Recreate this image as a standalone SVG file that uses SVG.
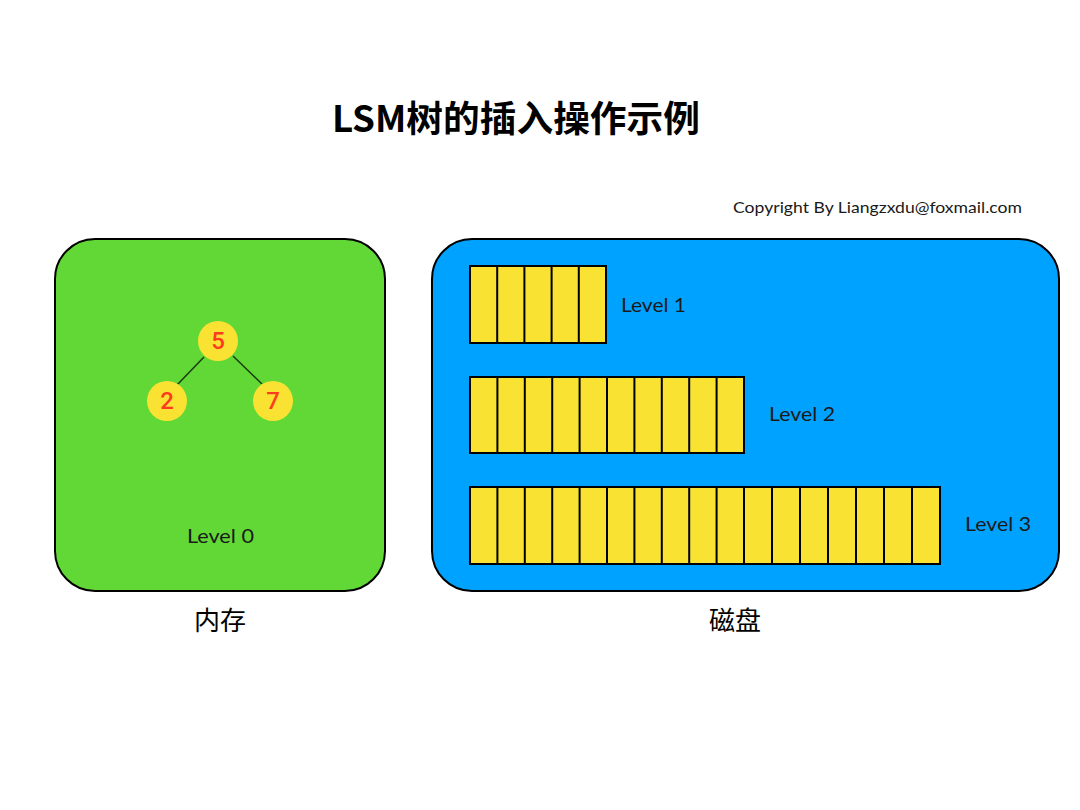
<svg xmlns="http://www.w3.org/2000/svg" width="1080" height="810" viewBox="0 0 1080 810">
<defs>
<style>
.box{stroke:#000;stroke-width:2}
.cell{fill:#F9E232;stroke:#000;stroke-width:2}
.div{stroke:#000;stroke-width:2}
.lbl{font-family:Lato,"Liberation Sans",sans-serif;font-size:20px;fill:#1a1a1a}
.node{fill:#F9E232}
.num{font-family:Roboto,"Liberation Sans",Arial,sans-serif;font-weight:500;font-size:24px;fill:#FF3B1F;text-anchor:middle}
.cjk{font-family:"Noto Sans CJK SC",sans-serif;font-size:26px;fill:#000;text-anchor:middle}
</style>
</defs>
<rect width="1080" height="810" fill="#fff"/>
<text x="332" y="132" font-family="'Noto Sans CJK SC',sans-serif" font-weight="bold" font-size="36" fill="#000" textLength="368" lengthAdjust="spacingAndGlyphs">LSM树的插入操作示例</text>
<text x="733" y="213" font-family="Lato,'Liberation Sans',sans-serif" font-size="16" fill="#1a1a1a" textLength="289" lengthAdjust="spacingAndGlyphs">Copyright By Liangzxdu@foxmail.com</text>

<g id="memory">
<rect class="box" x="55" y="239" width="330" height="352" rx="40" ry="40" fill="#62D836"/>
<text class="lbl" x="187" y="543" textLength="67" lengthAdjust="spacingAndGlyphs">Level 0</text>
<text class="cjk" x="220" y="630">内存</text>
</g>

<g id="connectors">
<line x1="204" y1="357" x2="177" y2="385" stroke="#1a3a10" stroke-width="1.5"/>
<line x1="233" y1="356" x2="262" y2="384" stroke="#1a3a10" stroke-width="1.5"/>
</g>

<g id="node5"><circle class="node" cx="218" cy="341" r="20"/><text class="num" x="218" y="349">5</text></g>
<g id="node2"><circle class="node" cx="167" cy="401" r="20"/><text class="num" x="167" y="409">2</text></g>
<g id="node7"><circle class="node" cx="273" cy="401" r="20"/><text class="num" x="273" y="409">7</text></g>

<g id="disk">
<rect class="box" x="432" y="239" width="627" height="352" rx="40" ry="40" fill="#00A2FF"/>
<text class="cjk" x="735" y="630">磁盘</text>
</g>

<g id="level1">
<rect class="cell" x="470" y="266" width="136" height="77"/>
<path class="div" d="M497.2 266V343M524.4 266V343M551.6 266V343M578.8 266V343"/>
<text class="lbl" x="621" y="312" textLength="65" lengthAdjust="spacingAndGlyphs">Level 1</text>
</g>

<g id="level2">
<rect class="cell" x="470" y="377" width="274" height="76"/>
<path class="div" d="M497.4 377V453M524.8 377V453M552.2 377V453M579.6 377V453M607 377V453M634.4 377V453M661.8 377V453M689.2 377V453M716.6 377V453"/>
<text class="lbl" x="769" y="421" textLength="66" lengthAdjust="spacingAndGlyphs">Level 2</text>
</g>

<g id="level3">
<rect class="cell" x="470" y="487" width="274" height="77"/>
<path class="div" d="M497.4 487V564M524.8 487V564M552.2 487V564M579.6 487V564M607 487V564M634.4 487V564M661.8 487V564M689.2 487V564M716.6 487V564"/>
<rect class="cell" x="744" y="487" width="196" height="77"/>
<path class="div" d="M772 487V564M800 487V564M828 487V564M856 487V564M884 487V564M912 487V564"/>
<text class="lbl" x="965" y="531" textLength="66" lengthAdjust="spacingAndGlyphs">Level 3</text>
</g>
</svg>
